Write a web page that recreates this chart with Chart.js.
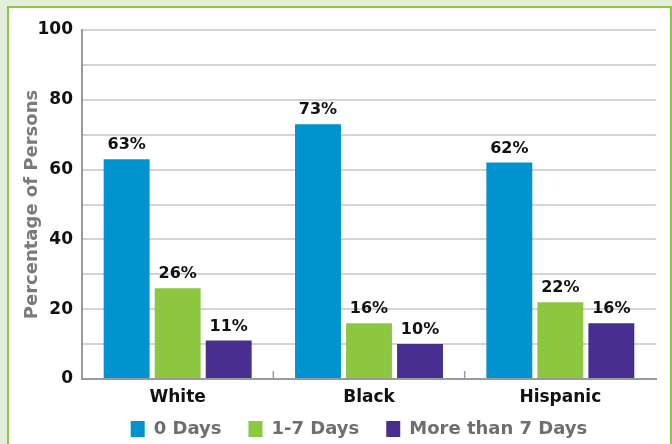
<!DOCTYPE html>
<html>
<head>
<meta charset="utf-8">
<script src="https://cdn.jsdelivr.net/npm/chart.js@4/dist/chart.umd.min.js"></script>
<style>
  html, body { margin: 0; padding: 0; }
  body { width: 672px; height: 444px; background: #e3efda; position: relative; overflow: hidden; }
  .frame {
    position: absolute; left: 7px; top: 6px; width: 661px; height: 450px;
    background: #ffffff; border: 2px solid #8dc63f; border-bottom: none;
  }
  .wrap { position: absolute; left: 0; top: 0; width: 672px; height: 444px; }
</style>
</head>
<body>
<div class="frame"></div>
<div class="wrap"><canvas id="chart" width="672" height="444"></canvas></div>
<script>
const categories = ['White', 'Black', 'Hispanic'];
const zeroDays = [63, 73, 62];
const oneToSeven = [26, 16, 22];
const moreThanSeven = [11, 10, 16];
const seriesLabels = ['0 Days', '1-7 Days', 'More than 7 Days'];
const seriesColors = ['#0093d0', '#8dc63f', '#482e8f'];

const FONT = '"DejaVu Sans", Verdana, sans-serif';

// value labels over each bar
const barLabels = {
  id: 'barLabels',
  afterDatasetsDraw(chart) {
    const ctx = chart.ctx;
    ctx.save();
    ctx.font = 'bold 16px ' + FONT;
    ctx.fillStyle = '#111';
    ctx.textAlign = 'center';
    ctx.textBaseline = 'bottom';
    chart.data.datasets.forEach((ds, i) => {
      chart.getDatasetMeta(i).data.forEach((bar, j) => {
        ctx.fillText(ds.data[j] + '%', bar.x, bar.y - 6);
      });
    });
    ctx.restore();
  }
};

// short upward ticks between category groups on the x axis
const groupTicks = {
  id: 'groupTicks',
  afterDraw(chart) {
    const x = chart.scales.x;
    const y = chart.scales.y;
    const ctx = chart.ctx;
    const base = y.getPixelForValue(0);
    ctx.save();
    ctx.strokeStyle = '#9a9a9a';
    ctx.lineWidth = 1.5;
    for (let i = 1; i < categories.length; i++) {
      const px = (x.getPixelForValue(i - 1) + x.getPixelForValue(i)) / 2;
      ctx.beginPath();
      ctx.moveTo(px, base);
      ctx.lineTo(px, base - 8);
      ctx.stroke();
    }
    ctx.restore();
  }
};

// pull the legend row up under the category labels and centre it on the plot
const legendLift = {
  id: 'legendLift',
  afterLayout(chart) {
    const lg = chart.legend;
    if (!lg) return;
    lg.top -= 16;
    lg.bottom -= 16;
    lg.left += 31;
    lg.right += 31;
  }
};

new Chart(document.getElementById('chart'), {
  type: 'bar',
  data: {
    labels: categories,
    datasets: [zeroDays, oneToSeven, moreThanSeven].map((d, i) => ({
      label: seriesLabels[i],
      data: d,
      backgroundColor: seriesColors[i],
      borderWidth: 0,
      categoryPercentage: 0.8,
      barPercentage: 0.9
    }))
  },
  options: {
    responsive: false,
    animation: false,
    layout: { padding: { top: 30, right: 16, left: 0, bottom: -20 } },
    plugins: {
      tooltip: { enabled: false },
      legend: {
        position: 'bottom',
        labels: {
          color: '#6d6e71',
          font: { family: FONT, size: 18, weight: 'bold' },
          boxWidth: 14,
          boxHeight: 16,
          padding: 27
        }
      }
    },
    scales: {
      x: {
        afterFit(scale) { scale.height = 30; },
        grid: { display: false },
        border: { color: '#9a9a9a', width: 2 },
        ticks: {
          color: '#111',
          padding: 0,
          font: { family: FONT, size: 17, weight: 'bold' }
        }
      },
      y: {
        min: 0,
        max: 100,
        afterFit(scale) { scale.width = 82; },
        grid: { color: '#d4d4d4', lineWidth: 2, drawTicks: false },
        border: { color: '#9a9a9a', width: 2 },
        ticks: {
          stepSize: 10,
          color: '#111',
          padding: 9,
          font: { family: FONT, size: 17, weight: 'bold' },
          callback: v => (v % 20 === 0 ? v : '')
        },
        title: {
          display: true,
          text: 'Percentage of Persons',
          color: '#7a7a7a',
          padding: { top: 22, bottom: 0 },
          font: { family: FONT, size: 18, weight: 'bold' }
        }
      }
    }
  },
  plugins: [barLabels, groupTicks, legendLift]
});
</script>
</body>
</html>
